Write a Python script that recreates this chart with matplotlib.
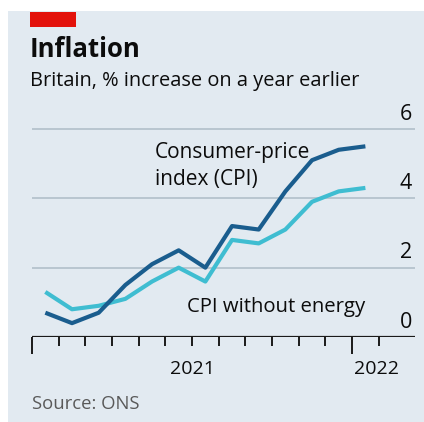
import numpy as np
import matplotlib.pyplot as plt
from matplotlib.patches import Rectangle
from matplotlib import transforms

# Monthly data, Jan 2021 - Jan 2022 (% increase on a year earlier)
months = ["Jan", "Feb", "Mar", "Apr", "May", "Jun", "Jul", "Aug", "Sep",
          "Oct", "Nov", "Dec", "Jan"]
cpi = [0.7, 0.4, 0.7, 1.5, 2.1, 2.5, 2.0, 3.2, 3.1, 4.2, 5.1, 5.4, 5.5]
cpi_ex_energy = [1.3, 0.8, 0.9, 1.1, 1.6, 2.0, 1.6, 2.8, 2.7, 3.1, 3.9, 4.2, 4.3]
y_ticks = [0, 2, 4, 6]
year_labels = ["2021", "2022"]

W, H = 424, 422
plt.rcParams["font.family"] = ["Open Sans", "DejaVu Sans"]

fig = plt.figure(figsize=(W / 100, H / 100), dpi=100)
fig.patch.set_facecolor("white")

bg = "#e2eaf1"
fig.add_artist(Rectangle((8 / W, 0), 1 - 8 / W, 1 - 11 / H, transform=fig.transFigure,
                         facecolor=bg, edgecolor="none", zorder=0))
fig.add_artist(Rectangle((30 / W, 1 - 27 / H), 46 / W, 15 / H, transform=fig.transFigure,
                         facecolor="#e3120b", edgecolor="none", zorder=1))


def fx(px):
    return px / W


def fy(py):
    return 1 - py / H


fig.text(fx(30), fy(57), "Inflation", fontsize=18.5, fontweight="bold",
         va="baseline", ha="left", color="#0c0c0c")
fig.text(fx(30), fy(86), "Britain, % increase on a year earlier", fontsize=14.4,
         va="baseline", ha="left", color="#0c0c0c")
fig.text(fx(32), fy(409), "Source: ONS", fontsize=13.3, va="baseline", ha="left",
         color="#595959")

# axes: x in months from start of Jan 2021, y in %
px_month = 26.67
px_unit = 34.67
x0, y0 = 32, 337
xmax = (415 - x0) / px_month
ymax = 6.3
ax = fig.add_axes([fx(x0), fy(y0), xmax * px_month / W, ymax * px_unit / H])
ax.set_facecolor("none")
ax.set_xlim(0, xmax)
ax.set_ylim(0, ymax)

x = np.arange(len(months)) + 0.5

for v in y_ticks[1:]:
    ax.axhline(v, color="#b5c3cd", lw=1.3, zorder=1)
ax.axhline(0, color="#1a1a1a", lw=1.6, zorder=3)

ax.plot(x, cpi_ex_energy, color="#3fbdd1", lw=3, solid_capstyle="butt", zorder=4,
        clip_on=False)
ax.plot(x, cpi, color="#1a5d8e", lw=3, solid_capstyle="butt", zorder=5, clip_on=False)

for s in ax.spines.values():
    s.set_visible(False)
ax.set_yticks([])
ax.set_xticks([0, 12])
ax.set_xticks([m for m in range(1, 14) if m != 12], minor=True)
ax.set_xticklabels([])
ax.tick_params(axis="x", which="major", length=12.5, width=1.4, color="#1a1a1a")
ax.tick_params(axis="x", which="minor", length=6.5, width=1.4, color="#1a1a1a")

# right-hand value labels above the gridlines
lab_tr = transforms.blended_transform_factory(fig.transFigure, ax.transData)
for v in y_ticks:
    ax.text(fx(412), v, str(v), transform=transforms.offset_copy(
        lab_tr, fig=fig, x=0, y=3, units="points"),
        ha="right", va="bottom", fontsize=15.5, color="#0c0c0c")

# year labels
for xv, lab in zip([6.0, 12.9], year_labels):
    ax.text(xv, 0, lab, transform=transforms.offset_copy(
        ax.transData, fig=fig, x=0, y=-26.5, units="points"),
        ha="center", va="baseline", fontsize=14, color="#0c0c0c")

ax.text(4.61, 5.16, "Consumer-price", fontsize=15, va="baseline", ha="left",
        color="#0c0c0c")
ax.text(4.61, 4.38, "index (CPI)", fontsize=15, va="baseline", ha="left",
        color="#0c0c0c")
ax.text(5.81, 0.72, "CPI without energy", fontsize=14.6, va="baseline", ha="left",
        color="#0c0c0c")

fig.savefig("out.png", dpi=100, facecolor=fig.get_facecolor())
